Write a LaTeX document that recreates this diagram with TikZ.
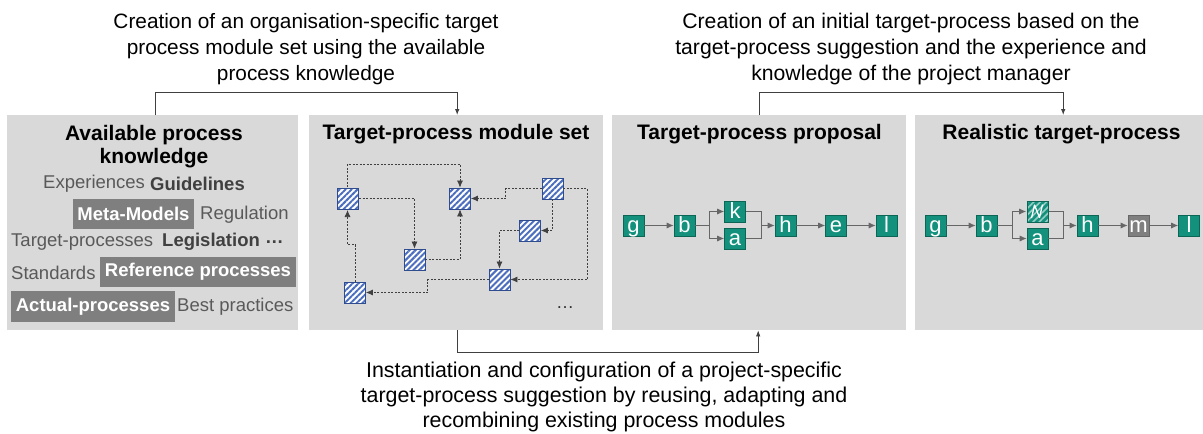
\documentclass[tikz,border=0pt]{standalone}
\usepackage{fontspec}
\setmainfont{Liberation Sans}
\usetikzlibrary{arrows.meta,patterns.meta,calc}
\definecolor{panel}{HTML}{D9D9D9}
\definecolor{teal1}{HTML}{13917D}
\definecolor{tealdark}{HTML}{0B6656}
\definecolor{boxgray}{HTML}{7F7F7F}
\definecolor{txtgray}{HTML}{595959}
\definecolor{txtdark}{HTML}{404040}
\definecolor{modblue}{HTML}{4C6EBF}
\definecolor{modborder}{HTML}{2F4C8E}
\definecolor{linegray}{HTML}{404040}
\begin{document}
\begin{tikzpicture}[x=1pt,y=-1pt,
  panelbox/.style={fill=panel, draw=none, minimum height=215pt, inner sep=0, anchor=north west},
  conn/.style={draw=linegray, line width=0.8pt, -{Latex[length=6pt,width=4.5pt]}},
  caption/.style={align=center, inner sep=0},
  ptitle/.style={align=center, inner sep=0, font=\bfseries\fontsize{21}{23.5}\selectfont},
  word/.style={inner sep=0, anchor=west, text=txtgray, font=\fontsize{18.5}{20}\selectfont},
  boldword/.style={word, text=txtdark, font=\bfseries\fontsize{18.5}{20}\selectfont},
  tagbox/.style={fill=boxgray, text=white, inner sep=0, font=\bfseries\fontsize{18.5}{20}\selectfont},
  module/.style={minimum size=21pt, inner sep=0, draw=modborder, line width=0.8pt,
    preaction={fill=white}, pattern={Lines[angle=45,distance=4.2pt,line width=2pt]}, pattern color=modblue},
  mconn/.style={draw=black!75, dash pattern=on 2pt off 1.5pt, line width=0.7pt, -{Latex[length=7pt,width=6pt]}},
  proc/.style={fill=teal1, draw=tealdark, line width=0.6pt, minimum width=21pt, inner xsep=0, inner ysep=1pt,
    text height=16pt, text depth=3pt, text=white, font=\fontsize{22}{22}\selectfont},
  pline/.style={draw=black!60, line width=0.8pt},
  pconn/.style={pline, -{Latex[length=7pt,width=6pt]}}
]
\useasboundingbox (0,0) rectangle (1203,434);

% panels
\node[panelbox, minimum width=291pt] (p1) at (7,115) {};
\node[panelbox, minimum width=294pt] (p2) at (309,115) {};
\node[panelbox, minimum width=294pt] (p3) at (612,115) {};
\node[panelbox, minimum width=288pt] (p4) at (915,115) {};

% connectors between panels
\draw[conn] ([xshift=2.5pt]p1.north) -- ++(0,-23) -| ([xshift=1pt]p2.north);
\draw[conn] (p3.north) -- ++(0,-23) -| ([xshift=4pt]p4.north);
\draw[conn] ([xshift=1pt]p2.south) -- ++(0,22) -| ([xshift=-1pt]p3.south);

% captions
\node[caption, font=\fontsize{20.8}{26}\selectfont] (c1) at (306,49.5) {Creation of an organisation-specific target\\process module set using the available\\process knowledge};
\node[caption, font=\fontsize{21.2}{26}\selectfont] (c2) at (911,49.5) {Creation of an initial target-process based on the\\target-process suggestion and the experience and\\knowledge of the project manager};
\node[caption, font=\fontsize{21.4}{25}\selectfont] (c3) at (604,397) {Instantiation and configuration of a project-specific\\target-process suggestion by reusing, adapting and\\recombining existing process modules};

% titles
\node[ptitle] (t1) at (154,146.5) {Available process\\knowledge};
\node[ptitle] (t2) at (456,134) {Target-process module set};
\node[ptitle] (t3) at (759.5,134) {Target-process proposal};
\node[ptitle] (t4) at (1061.5,134) {Realistic target-process};

% panel 1 words
\node[word] (w1) at (43,184) {Experiences};
\node[boldword] (w2) at (150,184) {Guidelines};
\node[tagbox, minimum width=121pt, minimum height=30pt] (w3) at (133.5,214) {Meta-Models};
\node[word] (w4) at (200,215) {Regulation};
\node[word] (w5) at (11,242) {Target-processes};
\node[boldword] (w6) at (162,242) {Legislation};
\node[boldword] (w7) at (265,242) {…};
\node[word] (w8) at (11,273) {Standards};
\node[tagbox, minimum width=196pt, minimum height=30pt] (w9) at (198,272) {Reference processes};
\node[tagbox, minimum width=164pt, minimum height=31pt] (w10) at (93,306.5) {Actual-processes};
\node[word] (w11) at (177,307) {Best practices};

% panel 2 modules
\node[module] (A) at (347.5,198.5) {};
\node[module] (B) at (460,198.5) {};
\node[module] (C) at (552.5,188.5) {};
\node[module] (D) at (530,230.5) {};
\node[module] (E) at (414.5,259.5) {};
\node[module] (F) at (499.5,279.5) {};
\node[module] (G) at (355,292.5) {};
\node[inner sep=0, font=\fontsize{18}{18}\selectfont, text=black!80] (dots) at (565,308) {…};

\draw[mconn] (A.north) -- ++(0,-23) -| (B.north);
\draw[mconn] (A.east) -| (E.north);
\draw[mconn] (E.east) -| (B.south);
\draw[mconn] (C.west) -- ++(-36,0) |- (B.east);
\draw[mconn] (C.south) |- (D.east);
\draw[mconn] (D.west) -| (F.north);
\draw[mconn] (C.east) -- ++(24,0) |- (F.east);
\draw[mconn] (F.west) -- ++(-61,0) |- (G.east);
\draw[mconn] (G.north) -- ++(0,-37) -| (A.south);

% panel 3 process
\node[proc] (g1) at (633.5,225.5) {g};
\node[proc] (b1) at (684.5,225.5) {b};
\node[proc] (k1) at (735,211.5) {k};
\node[proc] (a1) at (735,238.5) {a};
\node[proc] (h1) at (785.5,225.5) {h};
\node[proc] (e1) at (836,225.5) {e};
\node[proc] (l1) at (886.5,225.5) {l};
\coordinate (f1) at (709,225.5);
\coordinate (m1) at (761,225.5);
\draw[pconn] (g1) -- (b1);
\draw[pline] (b1.east) -- (f1);
\draw[pconn] (f1) |- (k1.west);
\draw[pconn] (f1) |- (a1.west);
\draw[pline] (k1.east) -| (m1);
\draw[pline] (a1.east) -| (m1);
\draw[pconn] (m1) -- (h1.west);
\draw[pconn] (h1) -- (e1);
\draw[pconn] (e1) -- (l1);

% panel 4 process
\node[proc] (g2) at (935.5,225.5) {g};
\node[proc] (b2) at (986.5,225.5) {b};
\node[proc, preaction={fill=teal1}, pattern={Lines[angle=45,distance=4.5pt,line width=1.6pt]}, pattern color=teal1!45!white] (x2) at (1037.5,211.5) {};
\draw[white, line width=1.3pt, line join=round] (1031.5,218) -- (1034.5,205) -- (1039.5,217.5) -- (1042.5,204.5);
\node[proc] (a2) at (1037.5,238.5) {a};
\node[proc] (h2) at (1087.5,225.5) {h};
\node[proc, fill=boxgray, draw=black!60] (mm2) at (1138.5,225.5) {m};
\node[proc] (l2) at (1189,225.5) {l};
\coordinate (f2) at (1012,225.5);
\coordinate (m2) at (1063,225.5);
\draw[pconn] (g2) -- (b2);
\draw[pline] (b2.east) -- (f2);
\draw[pconn] (f2) |- (x2.west);
\draw[pconn] (f2) |- (a2.west);
\draw[pline] (x2.east) -| (m2);
\draw[pline] (a2.east) -| (m2);
\draw[pconn] (m2) -- (h2.west);
\draw[pconn] (h2) -- (mm2);
\draw[pconn] (mm2) -- (l2);
\end{tikzpicture}
\end{document}
